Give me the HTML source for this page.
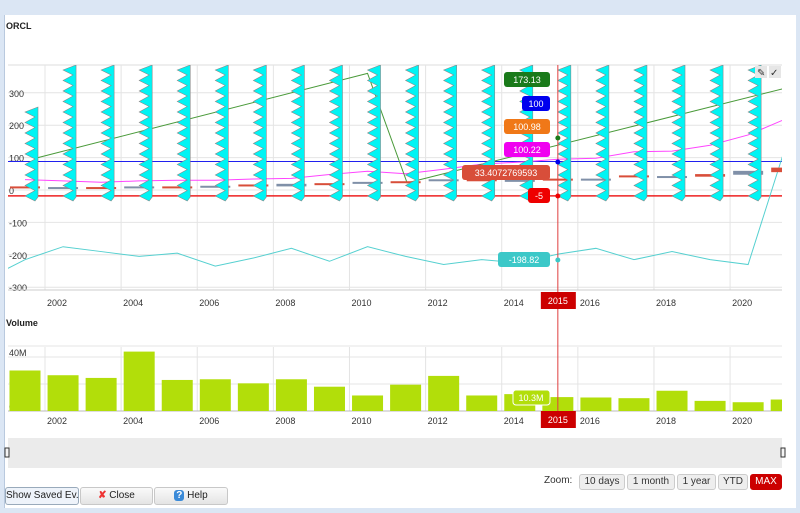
<!DOCTYPE html>
<html><head><meta charset="utf-8">
<style>
body{margin:0;width:800px;height:513px;overflow:hidden;background:#dbe6f4;font-family:"Liberation Sans",sans-serif;}
#win{position:absolute;left:4px;top:15px;width:791px;height:493px;background:#fff;border-left:1px solid #b9c9de;}
.btn{position:absolute;height:16px;border:1px solid #c8c8c8;border-radius:3px;background:linear-gradient(#fafafa,#e4e4e4);font-size:10px;line-height:16px;text-align:center;color:#222;white-space:nowrap;overflow:hidden;}
.zb{position:absolute;top:474px;height:14px;border:1px solid #ccc;border-radius:3px;background:#eee;font-size:10px;line-height:14px;text-align:center;color:#333;white-space:nowrap;}
</style></head><body>
<div id="win"></div>
<svg id="c" width="800" height="513" style="position:absolute;left:0;top:0"></svg>
<div class="zb" style="left:544px;border:none;background:none">Zoom:</div>
<div class="zb" style="left:579px;width:44px">10 days</div>
<div class="zb" style="left:627px;width:46px">1 month</div>
<div class="zb" style="left:677px;width:37px">1 year</div>
<div class="zb" style="left:718px;width:28px">YTD</div>
<div class="zb" style="left:750px;width:30px;background:#cc0000;color:#fff;border-color:#c00">MAX</div>
<div class="btn" style="left:5px;top:487px;width:72px;background:#eef3fa;border-color:#9ab">Show Saved Ev...</div>
<div class="btn" style="left:80px;top:487px;width:71px"><span style="color:#e33;font-weight:bold">✘</span> Close</div>
<div class="btn" style="left:154px;top:487px;width:72px"><span style="color:#fff;background:#3a8ad8;border-radius:3px;padding:0 2px;font-weight:bold">?</span> Help</div>
<script>
const years=[2001,2002,2003,2004,2005,2006,2007,2008,2009,2010,2011,2012,2013,2014,2015,2016,2017,2018,2019,2020,2021];
const greenYears=[2001.34,2010.0,2011.04,2020.9];
const greenVals=[100,360,22,312];
const blueVal=88;
const redVal=-18;
const magentaVals=[32,28,24,28,30,30,34,36,48,58,50,64,80,86,95,98,118,120,138,170,220];
const cyanVals=[-215,-175,-190,-205,-195,-235,-210,-180,-220,-175,-205,-230,-215,-225,-198,-180,-215,-190,-215,-230,140];
const candleOpen=[8,6,6,8,8,8,10,8,14,18,18,24,28,22,26,28,36,34,38,44,52];
const candleClose=[4,4,4,4,6,10,14,16,18,22,24,30,30,30,32,32,42,40,46,56,66];
const volVals=[30,26.5,24.5,44,23,23.5,20.5,23.5,18,11.5,19.5,26,11.5,12.5,10.3,10,9.5,15,7.5,6.5,8.5];
const yTicks=[300,200,100,0,-100,-200,-300];
const volTicks=[0,20,40];
const xTicks=[2002,2004,2006,2008,2010,2012,2014,2016,2018,2020];
const labels=[["173.13","#1a7a1a",80],["100","#0000ee",104],["100.98","#f07818",127],["100.22","#f000f0",150],["33.4072769593","#d84e3a",173],["-5","#ee0000",196],["-198.82","#3cc8c8",260]];

const svg=document.getElementById('c');
const NS='http://www.w3.org/2000/svg';
function el(t,a,p){const e=document.createElementNS(NS,t);for(const k in a)e.setAttribute(k,a[k]);(p||svg).appendChild(e);return e;}
const X=y=>25+38.06*(y-2001);
const G=y=>45+38.06*(y-2002);
const Y=v=>190-0.324*v;
const VY=v=>411-1.35*v;
const L=8,R=782;
const clip=el('clipPath',{id:'pc'});el('rect',{x:L,y:65,width:R-L,height:226},clip);
const clip2=el('clipPath',{id:'vc'});el('rect',{x:L,y:340,width:R-L,height:72},clip2);
let t=el('text',{x:6,y:29,'font-size':9,'font-weight':'bold',fill:'#222'});t.textContent='ORCL';

t=el('text',{x:6,y:326,'font-size':9,'font-weight':'bold',fill:'#222'});t.textContent='Volume';

el('line',{x1:L,x2:R,y1:65,y2:65,stroke:'#ddd'});
yTicks.forEach(v=>{el('line',{x1:L,x2:R,y1:Y(v),y2:Y(v),stroke:'#e4e4e4'});
 const tx=el('text',{x:9,y:Y(v)+4,'font-size':9,fill:'#333'});tx.textContent=v;
 });
xTicks.forEach(y=>{el('line',{x1:G(y),x2:G(y),y1:65,y2:290,stroke:'#e4e4e4'});
 el('line',{x1:G(y),x2:G(y),y1:347,y2:411,stroke:'#e4e4e4'});
 el('line',{x1:G(y),x2:G(y),y1:438,y2:467,stroke:'#fafafa'});
 let a=el('text',{x:G(y)+2,y:306,'font-size':9,fill:'#333'});a.textContent=y;
 
 a=el('text',{x:G(y)+2,y:424,'font-size':9,fill:'#333'});a.textContent=y;
 
 a=el('text',{x:G(y)+3,y:464,'font-size':9,fill:'#fff'});a.textContent=y;});
el('line',{x1:L,x2:R,y1:290,y2:290,stroke:'#ccc'});
volTicks.forEach(v=>{el('line',{x1:L,x2:R,y1:VY(v),y2:VY(v),stroke:'#e4e4e4'});
 const tx=el('text',{x:9,y:VY(v)-1,'font-size':9,fill:'#333'});tx.textContent=v?v+'M':'0';
 });
el('line',{x1:L,x2:R,y1:346,y2:346,stroke:'#e4e4e4'});
el('line',{x1:L,x2:R,y1:411,y2:411,stroke:'#bbb'});
const pg=el('g',{'clip-path':'url(#pc)'});
function poly(xs,vs,col,name){const p=el('polyline',{points:xs.map((x,i)=>X(x)+','+Y(vs[i])).join(' '),fill:'none',stroke:col,'stroke-width':1},pg);
 }
let hl=el('line',{x1:L,x2:R,y1:Y(blueVal),y2:Y(blueVal),stroke:'#2020ee'},pg);
hl=el('line',{x1:L,x2:R,y1:Y(redVal),y2:Y(redVal),stroke:'#ee2020','stroke-width':1.5},pg);
poly(years,magentaVals,'#ff44ff','magenta-series');
poly([2000.5].concat(years),[-245].concat(cyanVals),'#55d0d0','cyan-series');
poly(greenYears,greenVals,'#4a9a3a','green-series');
years.forEach((y,i)=>{const up=i%2;const c=el('rect',{x:X(y)-15,y:Math.min(Y(candleOpen[i]),Y(candleClose[i]))-1,width:30,height:Math.max(2,Math.abs(Y(candleOpen[i])-Y(candleClose[i]))),fill:up?'#8090a8':'#d84e3a'},pg);
 });
years.slice(0,20).forEach((y,i)=>{const rx=X(y)+13;const top=i==0?107:65;let d='M'+rx+','+top;let yy=top;
 while(yy<196){d+=' L'+(rx-13)+','+(yy+5)+' L'+(rx-3)+','+(yy+10);yy+=10.5;} d+=' L'+rx+',197 Z';
 const f=el('path',{d:d,fill:'#00f4f4',stroke:'#888','stroke-width':0.6},pg);});
const vg=el('g',{'clip-path':'url(#vc)'});
years.forEach((y,i)=>{const b=el('rect',{x:X(y)-15.5,y:VY(volVals[i]),width:31,height:411-VY(volVals[i]),fill:'#b2de0a'},vg);
 });
const cx=X(2015);
el('line',{x1:cx,x2:cx,y1:65,y2:411,stroke:'#e04040'});
[292,411].forEach(yy=>{const r=el('rect',{x:cx-17,y:yy,width:35,height:17,fill:'#cc0000'});
 const tx=el('text',{x:cx,y:yy+12,'font-size':9,fill:'#fff','text-anchor':'middle'});tx.textContent='2015';});
labels.forEach(([s,c,yy])=>{const w=s.length*6+10;const r=el('rect',{x:550-w,y:yy-8,width:w,height:15,rx:3,fill:c});
 
 const tx=el('text',{x:550-w/2,y:yy+3,'font-size':9,fill:'#fff','text-anchor':'middle'});tx.textContent=s;});
[[138,'#1a7a1a'],[162,'#0000ee'],[196,'#ee0000'],[260,'#3cc8c8']].forEach(([yy,c])=>el('circle',{cx:cx,cy:yy,r:2.5,fill:c}));
let vr=el('rect',{x:513,y:390,width:37,height:15,rx:3,fill:'#b2de0a',stroke:'#fff'});
t=el('text',{x:531,y:401,'font-size':9,fill:'#fff','text-anchor':'middle'});t.textContent='10.3M';
let nv=el('rect',{x:8,y:438,width:774,height:30,fill:'#ebebeb'});
[5,781].forEach(x=>{const h=el('rect',{x:x,y:448,width:4,height:9,fill:'#f4f4f4',stroke:'#333'});});
el('rect',{x:755,y:66,width:12,height:12,fill:'#e6e6e6'});el('rect',{x:769,y:66,width:12,height:12,fill:'#e6e6e6'});
t=el('text',{x:757,y:76,'font-size':10,fill:'#333'});t.textContent='✎';
t=el('text',{x:770,y:76,'font-size':10,fill:'#333'});t.textContent='✓';
</script>
</body></html>
